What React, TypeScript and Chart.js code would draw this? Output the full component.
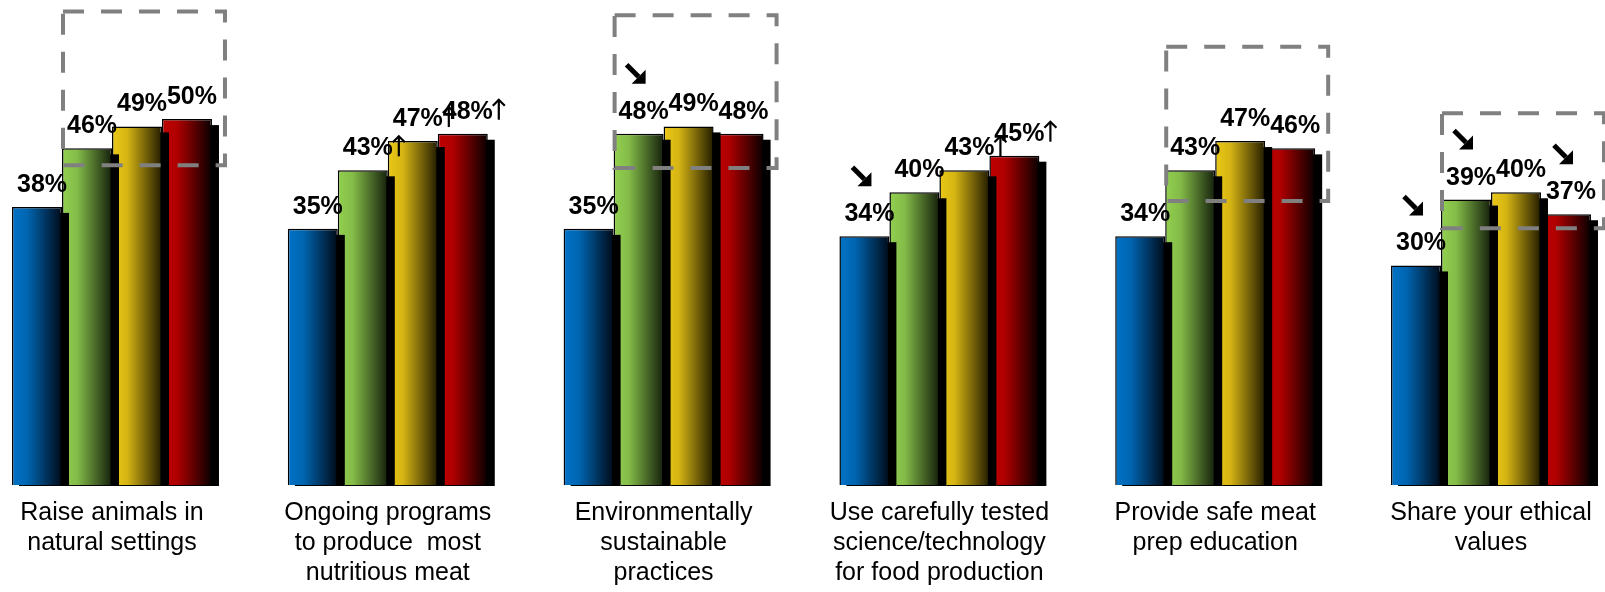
import React, { useEffect, useRef } from "react";
import { Chart, registerables } from "chart.js";

Chart.register(...registerables);

const categories: string[][] = [
  ["Raise animals in", "natural settings"],
  ["Ongoing programs", "to produce  most", "nutritious meat"],
  ["Environmentally", "sustainable", "practices"],
  ["Use carefully tested", "science/technology", "for food production"],
  ["Provide safe meat", "prep education"],
  ["Share your ethical", "values"],
];

const seriesNames = ["Wave 1", "Wave 2", "Wave 3", "Wave 4"];
const series1 = [38, 35, 35, 34, 34, 30];
const series2 = [46, 43, 48, 40, 43, 39];
const series3 = [49, 47, 49, 43, 47, 40];
const series4 = [50, 48, 48, 45, 46, 37];

// significance markers: "up" = ↑ after label, "down" = ➘ above label
const marks1 = ["", "", "", "down", "", "down"];
const marks2 = ["", "up", "down", "", "", "down"];
const marks3 = ["", "up", "", "up", "", ""];
const marks4 = ["", "up", "", "up", "", "down"];

// highlighted groups (dashed boxes), in value units
const boxGroups = [0, 2, 4, 5];
const boxTops = [64.7, 64.2, 59.9, 50.8];
const boxBottoms = [43.7, 43.3, 38.8, 35.1];

const colorStops: string[][] = [
  ["#0072C6", "#0066B2", "#000A18"],
  ["#92D050", "#84BC48", "#15200C"],
  ["#EAC816", "#D6B514", "#231C00"],
  ["#C00000", "#B00000", "#080000"],
];

const CAT_PCT = 0.725;
const FONT = "'Liberation Sans', Arial, sans-serif";

export default function App() {
  const ref = useRef<HTMLCanvasElement | null>(null);

  useEffect(() => {
    if (!ref.current) return;
    const values = [series1, series2, series3, series4];
    const marks = [marks1, marks2, marks3, marks4];

    const barGeom = (chart: any, di: number, gi: number) => {
      const xs = chart.scales.x;
      const c = xs.getPixelForValue(gi);
      const cat = xs.getPixelForValue(1) - xs.getPixelForValue(0);
      const bw = (cat * CAT_PCT) / 4;
      return { left: c + (di - 2) * bw, bw, c };
    };

    const gradientFill = (di: number) => (ctx: any) => {
      const stops = colorStops[di];
      const chart = ctx.chart;
      if (ctx.type !== "data" || !chart.scales || !chart.scales.x) return stops[0];
      const { left, bw } = barGeom(chart, di, ctx.dataIndex);
      if (!isFinite(left) || !isFinite(bw) || bw <= 0) return stops[0];
      const g = chart.ctx.createLinearGradient(left, 0, left + bw, 0);
      g.addColorStop(0, stops[0]);
      g.addColorStop(0.3, stops[1]);
      g.addColorStop(1, stops[2]);
      return g;
    };

    const shadowPlugin = {
      id: "barShadow",
      beforeDatasetDraw(chart: any, args: any) {
        const meta = chart.getDatasetMeta(args.index);
        const c = chart.ctx;
        c.save();
        c.fillStyle = "#000";
        meta.data.forEach((el: any) => {
          const p = el.getProps(["x", "y", "base", "width"], true);
          c.fillRect(p.x - p.width / 2 + 7, p.y + 6, p.width, p.base - p.y - 5);
        });
        c.restore();
      },
    };

    const drawDownArrow = (c: CanvasRenderingContext2D, cx: number, cy: number) => {
      c.save();
      c.translate(cx, cy);
      c.strokeStyle = "#000";
      c.fillStyle = "#000";
      c.lineWidth = 5;
      c.beginPath();
      c.moveTo(-9, -9);
      c.lineTo(3, 3);
      c.stroke();
      c.beginPath();
      c.moveTo(10, -4);
      c.lineTo(10, 10);
      c.lineTo(-4, 10);
      c.closePath();
      c.fill();
      c.restore();
    };

    const drawUpArrow = (c: CanvasRenderingContext2D, x: number, baseY: number) => {
      c.save();
      c.strokeStyle = "#000";
      c.lineWidth = 2.2;
      c.lineCap = "butt";
      c.lineJoin = "miter";
      const cx = x + 6;
      const top = baseY - 20;
      c.beginPath();
      c.moveTo(cx, baseY + 1);
      c.lineTo(cx, top + 1);
      c.stroke();
      c.beginPath();
      c.moveTo(cx - 6, top + 7);
      c.lineTo(cx, top + 1);
      c.lineTo(cx + 6, top + 7);
      c.stroke();
      c.restore();
    };

    const overlayPlugin = {
      id: "overlay",
      afterDatasetsDraw(chart: any) {
        const c = chart.ctx as CanvasRenderingContext2D;
        const ys = chart.scales.y;
        // dashed boxes
        c.save();
        c.strokeStyle = "#808080";
        c.lineWidth = 4;
        c.setLineDash([21, 17]);
        boxGroups.forEach((gi, k) => {
          const green = barGeom(chart, 1, gi);
          const red = barGeom(chart, 3, gi);
          const x1 = green.left + 1;
          const x2 = red.left + red.bw + 13;
          const y1 = ys.getPixelForValue(boxTops[k]);
          const y2 = ys.getPixelForValue(boxBottoms[k]);
          c.strokeRect(x1, y1, x2 - x1, y2 - y1);
        });
        c.restore();

        // labels
        c.save();
        c.fillStyle = "#000";
        c.textBaseline = "alphabetic";
        values.forEach((vals, di) => {
          const meta = chart.getDatasetMeta(di);
          meta.data.forEach((el: any, gi: number) => {
            const p = el.getProps(["x", "y"], true);
            const txt = `${vals[gi]}%`;
            const tx = p.x + 5;
            const ty = p.y - 15;
            c.font = `bold 25px ${FONT}`;
            c.textAlign = "center";
            c.fillText(txt, tx, ty);
            const tw = c.measureText(txt).width;
            const m = marks[di][gi];
            if (m === "up") {
              drawUpArrow(c, tx + tw / 2, ty);
            } else if (m === "down") {
              drawDownArrow(c, p.x - 3, ty - 45);
            }
          });
        });
        c.restore();
      },
    };

    const chart = new Chart(ref.current, {
      type: "bar",
      data: {
        labels: categories as any,
        datasets: values.map((vals, di) => ({
          label: seriesNames[di],
          data: vals,
          backgroundColor: gradientFill(di) as any,
          borderColor: "#000",
          borderWidth: 1.5,
          categoryPercentage: CAT_PCT,
          barPercentage: 1,
          clip: false as any,
        })),
      },
      options: {
        responsive: true,
        maintainAspectRatio: false,
        animation: false,
        layout: { padding: { left: 112, right: 114, top: 2, bottom: 3 } },
        plugins: {
          legend: { display: false },
          tooltip: { enabled: false },
        },
        scales: {
          x: {
            type: "category",
            offset: false,
            grid: { display: false, drawTicks: false },
            border: { display: false },
            ticks: {
              color: "#000",
              font: { family: FONT, size: 25, lineHeight: 1.2 },
              padding: 13,
              maxRotation: 0,
              minRotation: 0,
              autoSkip: false,
            },
          },
          y: { display: false, min: 0, max: 66 },
        },
      },
      plugins: [shadowPlugin, overlayPlugin],
    });
    return () => chart.destroy();
  }, []);

  return (
    <div style={{ position: "fixed", left: 0, top: 0, width: 1605, height: 604, background: "#fff" }}>
      <canvas ref={ref} />
    </div>
  );
}
